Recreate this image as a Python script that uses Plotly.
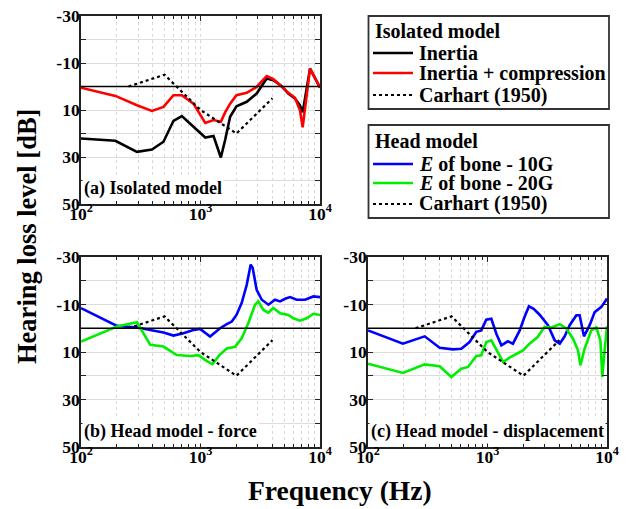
import plotly.graph_objects as go

# ---- data ----
# (a) isolated model
iso_f = [100, 194, 294, 392, 490, 594, 698, 872, 1096, 1285, 1480, 1607, 1770, 2000,
         2438, 2950, 3580, 4070, 4780, 5430, 6170, 6800, 7160, 8250, 8900, 10000]
inertia = [22.1, 23.1, 27.8, 26.8, 23.5, 14.6, 12.6, 16.9, 21.7, 21.1, 30.2, 22.8, 12.9, 8.4,
           6.5, 3.0, -3.4, -2.7, -0.1, 3.0, 5.1, 8.0, 11.0, -7.6, -4.5, 0.5]
inertia_comp = [0.5, 4.0, 8.0, 10.4, 8.7, 3.7, 3.7, 7.3, 15.5, 14.3, 15.0, 11.0, 7.3, 3.7,
                2.7, 0.2, -4.4, -3.1, 0.0, 2.7, 4.8, 10.1, 17.4, -7.6, -4.5, 0.5]

carhart_f = [250, 500, 1000, 2000, 4000]
carhart = [0, -5, 10, 20, 5]

# (b) head model - force
force_f = [100, 200, 294, 405, 490, 594, 720, 872, 993, 1203, 1458, 1660, 1828, 2000, 2210,
           2438, 2630, 2734, 2950, 3257, 3700, 4200, 4630, 5100, 5620, 6380, 7500, 8800, 10000]
force_10g = [-8.5, -1.0, -0.3, 1.1, 1.8, 3.1, 2.1, 0.7, 0.3, 3.5, 0.0, -1.7, -2.8, -5.6, -10.6,
             -18.3, -26.8, -25.4, -16.2, -12.0, -9.9, -12.0, -11.3, -12.4, -13.1, -12.0, -12.0, -13.4, -13.1]
force_f20 = [100, 200, 294, 380, 490, 633, 820, 960, 1122, 1260, 1440, 1660, 1950, 2210,
             2510, 2860, 3050, 3360, 3700, 4070, 4630, 5430, 5990, 6800, 7750, 8800, 10000]
force_20g = [5.6, -0.7, -2.5, 7.0, 7.7, 11.3, 11.7, 11.3, 13.7, 15.1, 11.3, 8.5, 7.8, 4.2,
             -2.1, -9.9, -11.3, -7.7, -6.6, -8.5, -6.3, -5.6, -4.2, -3.2, -4.2, -6.1, -5.6]

# (c) head model - displacement
disp_f10 = [100, 196, 298, 398, 514, 604, 708, 806, 887, 977, 1076, 1186, 1306, 1480, 1633,
            1860, 2040, 2220, 2433, 2730, 3205, 3650, 4020, 4425, 4870, 5540, 5900, 6415,
            7160, 7890, 8980, 10000]
disp_10g = [0.9, 6.5, 3.4, 8.2, 8.9, 8.6, 5.8, 1.5, 0.9, -3.6, -4.0, 2.3, 7.2, 5.5, 6.5,
            0.9, -4.7, -9.2, -8.2, -5.7, -1.3, 5.1, 6.5, 3.4, -1.3, -5.5, -5.5, 3.4,
            -1.3, -6.8, -9.0, -12.5]
disp_f20 = [100, 196, 298, 398, 498, 604, 687, 806, 887, 977, 1076, 1186, 1350, 1530, 1740,
            1980, 2250, 2630, 3000, 3420, 4020, 4570, 5190, 5720, 5990, 6500, 7390, 8150,
            8800, 9140, 9550, 10000]
disp_20g = [14.9, 18.8, 15.2, 16.0, 20.5, 17.0, 16.3, 11.7, 11.4, 5.8, 5.1, 9.3, 14.2, 12.4, 10.7,
            9.3, 6.5, 3.7, -0.6, -0.3, -1.7, 0.1, 4.4, 9.3, 15.6, 8.6, 0.9, -0.3,
            5.1, 20.5, 9.3, -0.8]

y_ticks = [-30, -20, -10, 0, 10, 20, 30, 40, 50]
y_labels = ["-30", "", "-10", "", "10", "", "30", "", "50"]
x_ticks = [100, 1000, 10000]
x_labels = ["10<sup>2</sup>", "10<sup>3</sup>", "10<sup>4</sup>"]
minor_ticks = [m * d for d in (100, 1000) for m in range(2, 10)]

legend1_title = "Isolated model"
legend1_names = ["Inertia", "Inertia + compression", "Carhart (1950)"]
legend2_title = "Head model"
legend2_names = ["<i>E</i> of bone - 10G", "<i>E</i> of bone - 20G", "Carhart (1950)"]

FONT = "Liberation Serif"
W, H = 633, 509
OFF = 8  # the page body margin shifts the figure by this much
BLACK, RED, BLUE, GREEN = "black", "#ff0000", "#0000ff", "#00ee00"


def px(x):
    return (x - OFF) / W


def py(y):
    return 1 - (y - OFF) / H


fig = go.Figure()

lw = 2.6
dot = dict(color=BLACK, width=2.2, dash="dot")
# panel a
fig.add_trace(go.Scatter(x=iso_f, y=inertia, mode="lines", line=dict(color=BLACK, width=lw),
                         name=legend1_names[0], xaxis="x", yaxis="y"))
fig.add_trace(go.Scatter(x=iso_f, y=inertia_comp, mode="lines", line=dict(color=RED, width=lw),
                         name=legend1_names[1], xaxis="x", yaxis="y"))
fig.add_trace(go.Scatter(x=carhart_f, y=carhart, mode="lines", line=dot,
                         name=legend1_names[2], xaxis="x", yaxis="y"))
# panel b
fig.add_trace(go.Scatter(x=force_f, y=force_10g, mode="lines", line=dict(color=BLUE, width=lw),
                         name=legend2_names[0], xaxis="x2", yaxis="y2"))
fig.add_trace(go.Scatter(x=force_f20, y=force_20g, mode="lines", line=dict(color=GREEN, width=lw),
                         name=legend2_names[1], xaxis="x2", yaxis="y2"))
fig.add_trace(go.Scatter(x=carhart_f, y=carhart, mode="lines", line=dot,
                         name=legend2_names[2], xaxis="x2", yaxis="y2"))
# panel c
fig.add_trace(go.Scatter(x=disp_f10, y=disp_10g, mode="lines", line=dict(color=BLUE, width=lw),
                         name=legend2_names[0], xaxis="x3", yaxis="y3"))
fig.add_trace(go.Scatter(x=disp_f20, y=disp_20g, mode="lines", line=dict(color=GREEN, width=lw),
                         name=legend2_names[1], xaxis="x3", yaxis="y3"))
fig.add_trace(go.Scatter(x=carhart_f, y=carhart, mode="lines", line=dot,
                         name=legend2_names[2], xaxis="x3", yaxis="y3"))

tickfont = dict(family=FONT, size=17.5, color="black", weight="bold")


def xax(x0, x1, anchor):
    return dict(type="log", range=[2, 4], domain=[px(x0), px(x1)], anchor=anchor,
                tickvals=x_ticks, ticktext=x_labels, tickfont=tickfont, automargin=False,
                showline=True, linecolor="#222", linewidth=1.6, mirror="ticks",
                ticks="inside", ticklen=5, tickcolor="#222", ticklabelstandoff=-7,
                ticklabeloverflow="allow",
                showgrid=True, gridcolor="#d9d9d9", gridwidth=1, griddash="dot",
                minor=dict(tickvals=minor_ticks, showgrid=True, gridcolor="#d9d9d9",
                           griddash="dot", ticks="inside", ticklen=3, tickcolor="#222"),
                zeroline=False)


def yax(y0, y1, anchor):
    return dict(range=[50, -30], domain=[py(y1), py(y0)], anchor=anchor,
                tickvals=y_ticks, ticktext=y_labels, tickfont=tickfont, automargin=False,
                showline=True, linecolor="#222", linewidth=1.6, mirror="ticks",
                ticks="inside", ticklen=5, tickcolor="#222", ticklabelstandoff=-4,
                ticklabeloverflow="allow",
                showgrid=True, gridcolor="#dcdcdc", gridwidth=1, zeroline=False)


fig.update_layout(
    width=W, height=H, showlegend=False,
    margin=dict(l=0, r=0, t=0, b=0, pad=0, autoexpand=False),
    paper_bgcolor="white", plot_bgcolor="white",
    xaxis=xax(81, 320, "y"), yaxis=yax(16, 204, "x"),
    xaxis2=xax(81, 320, "y2"), yaxis2=yax(257, 447, "x2"),
    xaxis3=xax(368, 607, "y3"), yaxis3=yax(257, 447, "x3"),
)

# zero reference lines
for xr, yr in (("x", "y"), ("x2", "y2"), ("x3", "y3")):
    fig.add_shape(type="line", xref=xr + " domain", yref=yr, x0=0, x1=1, y0=0, y1=0,
                  line=dict(color="black", width=1.5))

panel_font = dict(family=FONT, size=18, color="black", weight="bold")
for xr, yr, txt in (("x", "y", "(a) Isolated model"), ("x2", "y2", "(b) Head model - force"),
                    ("x3", "y3", "(c) Head model - displacement")):
    fig.add_annotation(xref=xr + " domain", yref=yr + " domain", x=0.005, y=0.015,
                       xanchor="left", yanchor="bottom", text=txt, showarrow=False,
                       font=panel_font, bgcolor="white", borderpad=1)

# legend boxes drawn by hand (tight row spacing of the original)
leg_font = dict(family=FONT, size=20, color="black", weight="bold")
legends = [
    (16, 109, 31, [53, 73, 95], legend1_title, legend1_names,
     [dict(color=BLACK, width=2.6), dict(color=RED, width=2.6), dict(color=BLACK, width=2, dash="dot")]),
    (125, 218, 141, [164, 183, 204], legend2_title, legend2_names,
     [dict(color=BLUE, width=2.6), dict(color=GREEN, width=2.6), dict(color=BLACK, width=2, dash="dot")]),
]
for top, bot, ty, rows, title, names, styles in legends:
    fig.add_shape(type="rect", xref="paper", yref="paper", x0=px(368.5), x1=px(609), y0=py(bot), y1=py(top),
                  line=dict(color="#333", width=1.8), fillcolor="white", layer="above")
    fig.add_annotation(xref="paper", yref="paper", x=px(373), y=py(ty), xanchor="left", yanchor="middle",
                       text=title, showarrow=False, font=leg_font)
    for ry, name, st in zip(rows, names, styles):
        fig.add_shape(type="line", xref="paper", yref="paper", x0=px(373), x1=px(413), y0=py(ry), y1=py(ry),
                      line=st, layer="above")
        fig.add_annotation(xref="paper", yref="paper", x=px(417), y=py(ry), xanchor="left", yanchor="middle",
                           text=name, showarrow=False, font=leg_font)

fig.add_annotation(xref="paper", yref="paper", x=px(27), y=py(237), xanchor="center", yanchor="middle",
                   text="Hearing loss level [dB]", textangle=-90, showarrow=False,
                   font=dict(family=FONT, size=26.5, color="black", weight="bold"))
fig.add_annotation(xref="paper", yref="paper", x=px(340), y=py(490), xanchor="center", yanchor="middle",
                   text="Frequency (Hz)", showarrow=False,
                   font=dict(family=FONT, size=27.5, color="black", weight="bold"))

fig.write_html("out.html")
